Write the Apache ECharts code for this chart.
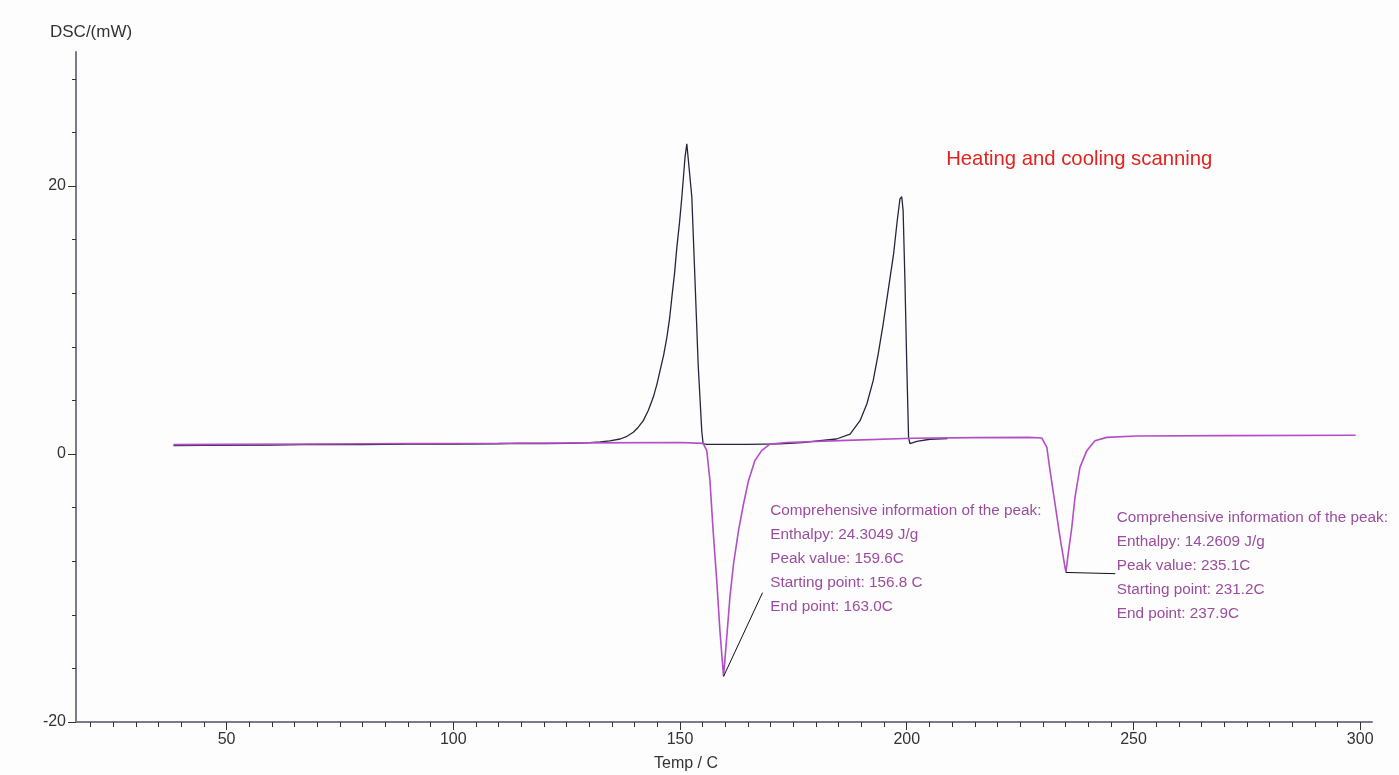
<!DOCTYPE html>
<html>
<head>
<meta charset="utf-8">
<title>DSC heating and cooling</title>
<script src="https://cdn.jsdelivr.net/npm/echarts@6/dist/echarts.min.js"></script>
<style>
    html, body { margin: 0; padding: 0; background: #fdfdfd; }
    #main { width: 1399px; height: 775px; }
</style>
</head>
<body>
<div id="main"></div>
<script>
// dsc.js - heating / cooling scan

// [temperature C, heat flow mW]
var heating = [
    [38.3, 0.62], [45, 0.64], [60, 0.67], [70, 0.72], [80, 0.70], [90, 0.73], [100, 0.74],
    [110, 0.76], [115, 0.80], [120, 0.78], [125, 0.80], [128, 0.82], [130, 0.85], [132.4, 0.9],
    [134.5, 0.98], [136.8, 1.12], [138.3, 1.32], [139.7, 1.62], [140.8, 2.0], [141.9, 2.49],
    [143, 3.25], [144.1, 4.23], [144.9, 5.2], [145.6, 6.22], [146.4, 7.4], [147.1, 8.7],
    [147.7, 10.1], [148.2, 11.69], [148.8, 13.5], [149.3, 15.42], [149.9, 17.3], [150.4, 19.16],
    [151.1, 22.13], [151.5, 23.15], [151.9, 23.1], [152.6, 19.2], [153.3, 13.0], [154.0, 6.7],
    [154.8, 1.7], [155.1, 0.75], [156, 0.72], [165, 0.72], [172, 0.76], [177, 0.85],
    [180.8, 1.0], [184.5, 1.12], [187.5, 1.49], [189.7, 2.49], [191.2, 3.73], [192.6, 5.47],
    [193.7, 7.46], [194.8, 9.7], [195.9, 12.19], [197.1, 14.93], [197.9, 17.41], [198.5, 19.03],
    [198.9, 19.2], [199.2, 18.16], [199.6, 12.93], [200.0, 6.72], [200.4, 1.24], [200.7, 0.78],
    [202.2, 0.95], [205.1, 1.1], [209, 1.15]
];

var cooling = [
    [38.3, 0.70], [50, 0.72], [70, 0.75], [90, 0.78], [110, 0.80], [130, 0.83], [150, 0.86],
    [155.1, 0.79], [155.9, 0.25], [156.6, -1.99], [157.3, -5.72], [158.1, -9.45], [158.8, -13.18],
    [159.6, -16.6], [160.3, -13.7], [161.0, -10.7], [161.8, -8.2], [162.9, -5.72], [164.0, -3.73],
    [165.1, -1.99], [166.5, -0.5], [168.0, 0.25], [169.9, 0.75], [173.5, 0.86], [186.7, 1.02],
    [201.3, 1.17], [215, 1.22], [226.9, 1.24], [229.8, 1.19], [230.9, 0.49], [231.6, -1.24],
    [232.7, -3.73], [233.8, -6.22], [234.9, -8.46], [235.1, -8.84], [235.6, -7.46], [236.4, -5.48],
    [237.1, -3.24], [238.2, -1.0], [239.7, 0.25], [241.5, 0.99], [244.1, 1.24], [250.6, 1.34],
    [270, 1.37], [299, 1.40]
];

var xLabels = [50, 100, 150, 200, 250, 300];
var xTicks = [20, 25, 30, 35, 40, 45, 55, 60, 65, 70, 75, 80, 85, 90, 95, 105, 110, 115, 120,
    125, 130, 135, 140, 145, 155, 160, 165, 170, 175, 180, 185, 190, 195, 205, 210, 215, 220,
    225, 230, 235, 240, 245, 255, 260, 265, 270, 275, 280, 285, 290, 295];
var yLabels = [-20, 0, 20];
var yTicks = [-16, -12, -8, -4, 4, 8, 12, 16, 24, 28];

// leader lines from the peak tips to the info text
var leader1 = [[159.6, -16.6], [168.2, -10.35]];
var leader2 = [[235.1, -8.84], [246.0, -8.93]];

var peak1Info = ['Comprehensive information of the peak:', 'Enthalpy: 24.3049 J/g',
    'Peak value: 159.6C', 'Starting point: 156.8 C', 'End point: 163.0C'];
var peak2Info = ['Comprehensive information of the peak:', 'Enthalpy: 14.2609 J/g',
    'Peak value: 235.1C', 'Starting point: 231.2C', 'End point: 237.9C'];
var peak1InfoAt = [169.9, -4.2];
var peak2InfoAt = [246.3, -4.75];
var titleAt = [208.7, 22.0];

var FONT = 'Liberation Sans, Arial, sans-serif';

var dom = document.getElementById('main');
var myChart = echarts.init(dom);

var option = {
    backgroundColor: '#fdfdfd',
    animation: false,
    grid: { left: 76, right: 27, top: 52, bottom: 53 },
    xAxis: [
        {
            type: 'value', min: 16.8, max: 302.6, position: 'bottom',
            axisLine: { show: true, onZero: false, lineStyle: { color: '#7a7a8e', width: 2 } },
            axisTick: { show: true, customValues: xTicks, length: 5, lineStyle: { color: '#333' } },
            axisLabel: { show: true, customValues: xLabels, color: '#333', fontSize: 16, margin: 10, fontFamily: FONT },
            splitLine: { show: false }
        },
        {
            type: 'value', min: 16.8, max: 302.6, position: 'bottom',
            axisLine: { show: false, onZero: false },
            axisTick: { show: true, customValues: xLabels, length: 8, lineStyle: { color: '#333' } },
            axisLabel: { show: false },
            splitLine: { show: false }
        }
    ],
    yAxis: [
        {
            type: 'value', min: -20, max: 30, position: 'left',
            axisLine: { show: true, onZero: false, lineStyle: { color: '#7a7a8e', width: 2 } },
            axisTick: { show: true, customValues: yTicks, length: 4, lineStyle: { color: '#333' } },
            axisLabel: { show: true, customValues: yLabels, color: '#333', fontSize: 16, margin: 10, fontFamily: FONT },
            splitLine: { show: false }
        },
        {
            type: 'value', min: -20, max: 30, position: 'left',
            axisLine: { show: false, onZero: false },
            axisTick: { show: true, customValues: yLabels, length: 8, lineStyle: { color: '#333' } },
            axisLabel: { show: false },
            splitLine: { show: false }
        }
    ],
    series: [
        {
            name: 'Heating', type: 'line', data: heating,
            symbol: 'none', z: 2,
            lineStyle: { color: '#25253f', width: 1.3 }
        },
        {
            name: 'Cooling', type: 'line', data: cooling,
            symbol: 'none', z: 3,
            lineStyle: { color: '#b24ec6', width: 1.6 },
            markLine: {
                silent: true,
                symbol: 'none',
                label: { show: false },
                lineStyle: { color: '#111', width: 1, type: 'solid' },
                data: [
                    [{ coord: leader1[0] }, { coord: leader1[1] }],
                    [{ coord: leader2[0] }, { coord: leader2[1] }]
                ]
            }
        }
    ]
};

myChart.setOption(option, true);

// text placed from data coordinates
function toPx(p) {
    return myChart.convertToPixel({ xAxisIndex: 0, yAxisIndex: 0 }, p);
}

var texts = [];
function infoBlock(lines, at) {
    var p = toPx(at);
    for (var i = 0; i < lines.length; i++) {
        texts.push({
            type: 'text', x: p[0], y: p[1] + i * 24, silent: true,
            style: { text: lines[i], fill: '#9a4d9e', font: '15.3px ' + FONT, verticalAlign: 'middle', align: 'left' }
        });
    }
}
infoBlock(peak1Info, peak1InfoAt);
infoBlock(peak2Info, peak2InfoAt);

var t = toPx(titleAt);
texts.push({
    type: 'text', x: t[0], y: t[1], silent: true,
    style: { text: 'Heating and cooling scanning', fill: '#e2231f', font: '20.3px ' + FONT, verticalAlign: 'middle', align: 'left' }
});

// axis names
texts.push({
    type: 'text', x: 50, y: 32, silent: true,
    style: { text: 'DSC/(mW)', fill: '#333', font: '17px ' + FONT, verticalAlign: 'middle', align: 'left' }
});
texts.push({
    type: 'text', x: 686, y: 764, silent: true,
    style: { text: 'Temp / C', fill: '#333', font: '16px ' + FONT, verticalAlign: 'middle', align: 'center' }
});

myChart.setOption({ graphic: texts });
</script>
</body>
</html>
